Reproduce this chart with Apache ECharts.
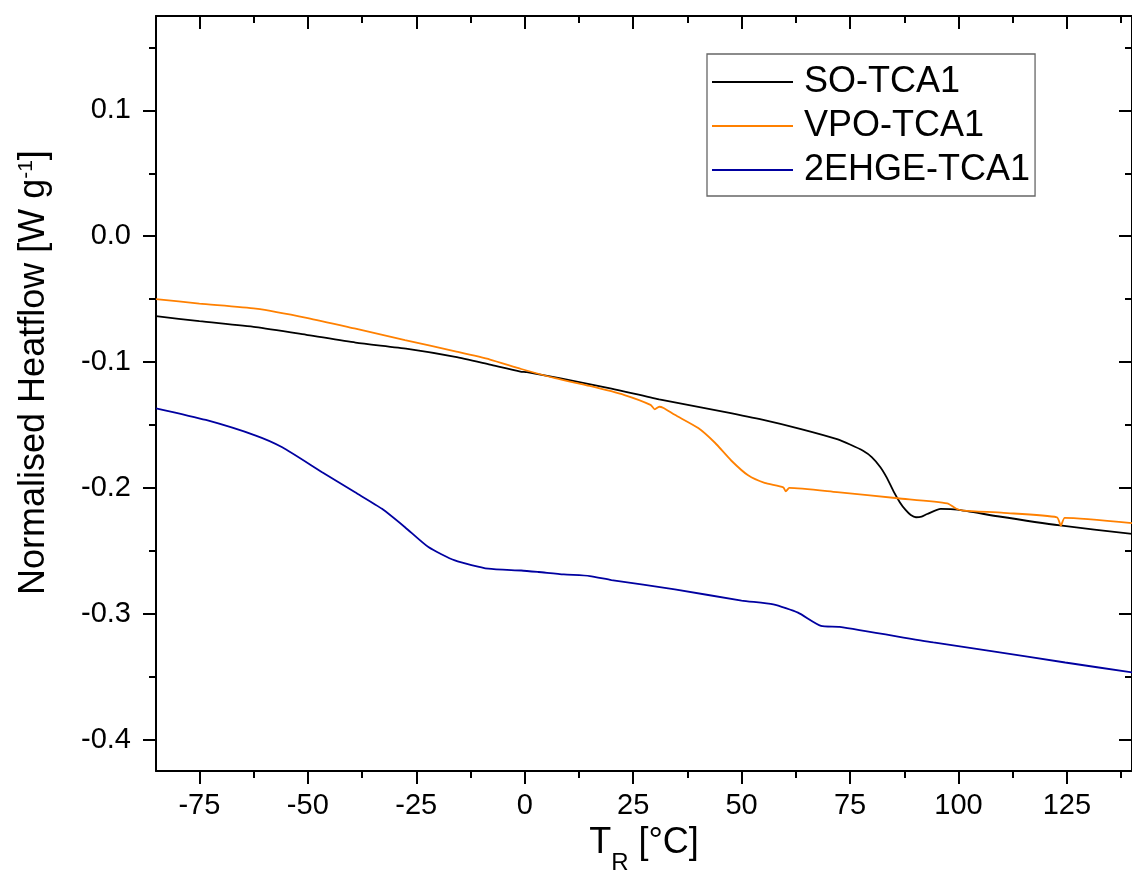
<!DOCTYPE html>
<html>
<head>
<meta charset="utf-8">
<script src="https://cdn.jsdelivr.net/npm/echarts@6/dist/echarts.min.js"></script>
<style>
html,body{margin:0;padding:0;background:#fff;}
#chart{width:1132px;height:880px;}
</style>
</head>
<body>
<div id="chart"></div>
<script>
// ---- data ----
const seriesNames = ['SO-TCA1', 'VPO-TCA1', '2EHGE-TCA1'];

const tempSO = [-85, -75, -62, -50, -39, -27, -16, -8, -1, 0.5, 8, 20, 31, 46, 55, 63.7, 72, 75, 78, 80, 82, 83.5, 85, 86.5, 87.8, 89, 90.2, 91.5, 92.8, 95.9, 99.7, 109, 123.4, 140];
const heatSO = [-0.0635, -0.0675, -0.0722, -0.0785, -0.0845, -0.0895, -0.0958, -0.102, -0.1075, -0.108, -0.1128, -0.121, -0.1296, -0.1396, -0.146, -0.1533, -0.1613, -0.1655, -0.1705, -0.1755, -0.1835, -0.192, -0.2025, -0.2115, -0.2175, -0.2215, -0.2233, -0.2228, -0.2207, -0.2167, -0.2172, -0.2225, -0.2298, -0.2365];

const tempVPO = [-85, -75, -62, -50, -39, -27.6, -16, -8, -0.8, 7, 15, 23, 29, 30, 31, 32, 34.6, 40, 43.8, 47.6, 51.5, 55.3, 59.6, 60.2, 61, 72, 86, 97.4, 99.5, 101.2, 110.4, 122.7, 123.6, 124.5, 140];
const heatVPO = [-0.0499, -0.0535, -0.0575, -0.065, -0.0735, -0.0825, -0.0915, -0.098, -0.1055, -0.1128, -0.119, -0.1262, -0.134, -0.1375, -0.1355, -0.1365, -0.1419, -0.1524, -0.1639, -0.1782, -0.19, -0.196, -0.1995, -0.2027, -0.2, -0.2034, -0.2082, -0.2122, -0.2165, -0.218, -0.2198, -0.2233, -0.23, -0.2238, -0.228];

const temp2EHGE = [-85, -73.5, -62, -55.9, -46.7, -39.1, -32.9, -27.6, -22.2, -16.1, -8.4, -0.8, 3.2, 9, 15, 20, 34.6, 50, 57.3, 63, 68.3, 72.6, 94.2, 107.2, 124.6, 140];
const heat2EHGE = [-0.1367, -0.146, -0.1584, -0.1677, -0.1875, -0.2035, -0.2166, -0.2312, -0.247, -0.2576, -0.2642, -0.2656, -0.2668, -0.2687, -0.27, -0.2732, -0.2806, -0.2895, -0.2925, -0.2991, -0.3096, -0.3104, -0.3228, -0.3294, -0.3387, -0.3466];

const xMajorTicks = [-75, -50, -25, 0, 25, 50, 75, 100, 125];
const xMinorTicks = [-62.5, -37.5, -12.5, 12.5, 37.5, 62.5, 87.5, 112.5, 137.5];
const yMajorTicks = [-0.4, -0.3, -0.2, -0.1, 0.0, 0.1];
const yMinorTicks = [-0.35, -0.25, -0.15, -0.05, 0.05, 0.15];

const xMin = -85, xMax = 140, yMin = -0.425, yMax = 0.175;
const colors = ['#000000', '#FF8000', '#0000A0'];

// ---- build ----
const zip = (a, b) => a.map((v, i) => [v, b[i]]);
const FONT = "'Liberation Sans', Arial, sans-serif";

function xAx(pos, ticks, len, inside, showLine, labels) {
  return {
    type: 'value', position: pos, min: xMin, max: xMax,
    axisLine: {show: showLine, onZero: false, lineStyle: {color: '#000', width: 2}},
    axisTick: {show: true, inside: inside, length: len, customValues: ticks, lineStyle: {color: '#000', width: 2}},
    axisLabel: labels ? {show: true, customValues: ticks, margin: 20, color: '#000', fontSize: 29, fontFamily: FONT} : {show: false},
    splitLine: {show: false}, minorTick: {show: false}
  };
}
function yAx(pos, ticks, len, inside, showLine, labels) {
  return {
    type: 'value', position: pos, min: yMin, max: yMax,
    axisLine: {show: showLine, onZero: false, lineStyle: {color: '#000', width: 2}},
    axisTick: {show: true, inside: inside, length: len, customValues: ticks, lineStyle: {color: '#000', width: 2}},
    axisLabel: labels ? {show: true, customValues: ticks, margin: 25, color: '#000', fontSize: 29, fontFamily: FONT,
      formatter: v => v.toFixed(1)} : {show: false},
    splitLine: {show: false}, minorTick: {show: false}
  };
}

const xAxes = [
  xAx('bottom', xMajorTicks, 13, false, true, true),
  xAx('bottom', xMinorTicks, 7, false, false, false),
  xAx('top', xMajorTicks, 13, true, true, false),
  xAx('top', xMinorTicks, 7, true, false, false)
];
Object.assign(xAxes[0], {
  name: '{t|T}{r|R}{t| [°C]}', nameLocation: 'middle', nameGap: 44,
  nameTextStyle: {color: '#000', fontFamily: FONT, rich: {
    t: {fontSize: 36, fontFamily: FONT, color: '#000', verticalAlign: 'top'},
    r: {fontSize: 24, fontFamily: FONT, color: '#000', verticalAlign: 'top', padding: [26, 0, 0, 0]}
  }}
});
const yAxes = [
  yAx('left', yMajorTicks, 13, false, true, true),
  yAx('left', yMinorTicks, 7, false, false, false),
  yAx('right', yMajorTicks, 13, true, true, false),
  yAx('right', yMinorTicks, 7, true, false, false)
];
Object.assign(yAxes[0], {
  name: '{t|Normalised Heatflow [W g}{s|-1}{t|]}', nameLocation: 'middle', nameGap: 104,
  nameTextStyle: {color: '#000', fontFamily: FONT, padding: [0, 0, 0, 42], rich: {
    t: {fontSize: 36, fontFamily: FONT, color: '#000', verticalAlign: 'top'},
    s: {fontSize: 21, fontFamily: FONT, color: '#000', verticalAlign: 'top'}
  }}
});

const data = [zip(tempSO, heatSO), zip(tempVPO, heatVPO), zip(temp2EHGE, heat2EHGE)];

const option = {
  animation: false,
  backgroundColor: '#fff',
  grid: {left: 156, top: 16, width: 979, height: 760, containLabel: false},
  xAxis: xAxes,
  yAxis: yAxes,
  legend: {
    orient: 'vertical', left: 707, top: 54,
    data: seriesNames,
    icon: 'rect', itemWidth: 81, itemHeight: 2, itemGap: 8,
    padding: [10, 5, 8, 5],
    borderColor: '#666', borderWidth: 1.3, backgroundColor: '#fff',
    textStyle: {fontSize: 36, fontFamily: FONT, color: '#000', lineHeight: 35, padding: [0, 0, 0, 6]}
  },
  series: seriesNames.map((n, i) => ({
    name: n, type: 'line', data: data[i], xAxisIndex: 0, yAxisIndex: 0,
    showSymbol: false, symbol: 'none', smooth: 0.2, clip: true,
    lineStyle: {color: colors[i], width: 1.8}, itemStyle: {color: colors[i]}
  }))
};

const chart = echarts.init(document.getElementById('chart'), null, {renderer: 'canvas'});
chart.setOption(option);
</script>
</body>
</html>
